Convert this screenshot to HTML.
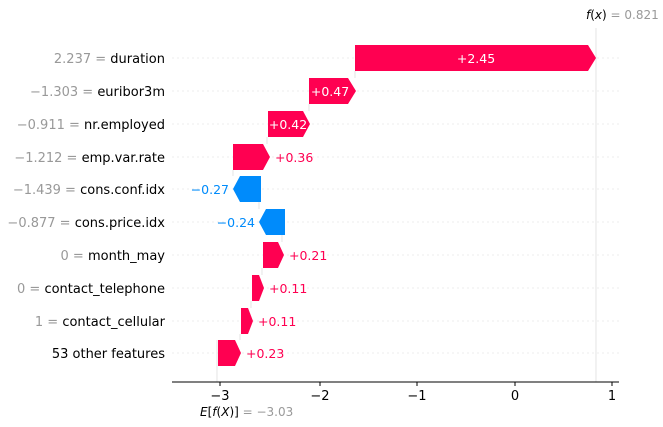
<!DOCTYPE html><html><head><style>body{margin:0;background:#fff}svg{display:block;font-family:"DejaVu Sans","Liberation Sans",sans-serif}</style></head><body>
<svg width="663" height="427" xmlns="http://www.w3.org/2000/svg">
<g stroke="#eee" stroke-dasharray="2,3" stroke-width="1">
<line x1="172" y1="58" x2="619" y2="58"/><line x1="172" y1="91" x2="619" y2="91"/><line x1="172" y1="124" x2="619" y2="124"/><line x1="172" y1="157" x2="619" y2="157"/><line x1="172" y1="189" x2="619" y2="189"/><line x1="172" y1="222" x2="619" y2="222"/><line x1="172" y1="255" x2="619" y2="255"/><line x1="172" y1="288" x2="619" y2="288"/><line x1="172" y1="321" x2="619" y2="321"/><line x1="172" y1="353" x2="619" y2="353"/>
</g>
<g stroke="#ddd" stroke-width="0.8">
<line x1="596" y1="28" x2="596" y2="382"/><line x1="217" y1="340" x2="217" y2="382"/>
<line x1="355" y1="71" x2="355" y2="78"/><line x1="309" y1="104" x2="309" y2="111"/><line x1="267" y1="137" x2="267" y2="144"/><line x1="233" y1="170" x2="233" y2="176"/><line x1="259" y1="202" x2="259" y2="209"/><line x1="282" y1="235" x2="282" y2="242"/><line x1="262" y1="268" x2="262" y2="275"/><line x1="251" y1="301" x2="251" y2="308"/><line x1="240" y1="334" x2="240" y2="340"/>
</g>
<g fill="#ff0051">
<polygon points="355,45 588,45 596,58 588,71 355,71"/>
<polygon points="309,78 348,78 356,91 348,104 309,104"/>
<polygon points="268,111 303,111 310,124 303,137 268,137"/>
<polygon points="233,144 263,144 270,157 263,170 233,170"/>
<polygon points="263,242 278,242 284,255 278,268 263,268"/>
<polygon points="252,275 259,275 264,288 259,301 252,301"/>
<polygon points="241,308 248,308 253,321 248,334 241,334"/>
<polygon points="218,340 235,340 241,353 235,366 218,366"/>
</g>
<g fill="#008bfb">
<polygon points="261,176 240,176 233,189 240,202 261,202"/>
<polygon points="285,209 266,209 259,222 266,235 285,235"/>
</g>
<g font-size="12.5" fill="#fff" text-anchor="middle">
<text x="476" y="63">+2.45</text><text x="330" y="96">+0.47</text><text x="288" y="129">+0.42</text>
</g>
<g font-size="12.5" fill="#ff0051">
<text x="275" y="162">+0.36</text><text x="289" y="260">+0.21</text><text x="269" y="293">+0.11</text><text x="258" y="326">+0.11</text><text x="246" y="358">+0.23</text>
</g>
<g font-size="12.5" fill="#008bfb" text-anchor="end">
<text x="229" y="194">−0.27</text><text x="255" y="227">−0.24</text>
</g>
<g font-size="13" text-anchor="end" fill="#000">
<text x="165" y="63"><tspan fill="#999">2.237 = </tspan>duration</text>
<text x="165" y="96"><tspan fill="#999">−1.303 = </tspan>euribor3m</text>
<text x="165" y="129"><tspan fill="#999">−0.911 = </tspan>nr.employed</text>
<text x="165" y="162"><tspan fill="#999">−1.212 = </tspan>emp.var.rate</text>
<text x="165" y="194"><tspan fill="#999">−1.439 = </tspan>cons.conf.idx</text>
<text x="165" y="227"><tspan fill="#999">−0.877 = </tspan>cons.price.idx</text>
<text x="165" y="260"><tspan fill="#999">0 = </tspan>month_may</text>
<text x="165" y="293"><tspan fill="#999">0 = </tspan>contact_telephone</text>
<text x="165" y="326"><tspan fill="#999">1 = </tspan>contact_cellular</text>
<text x="165" y="358">53 other features</text>
</g>
<line x1="172" y1="382" x2="619" y2="382" stroke="#000" stroke-width="1"/>
<g stroke="#000"><line x1="220" y1="382" x2="220" y2="386"/><line x1="320" y1="382" x2="320" y2="386"/><line x1="417" y1="382" x2="417" y2="386"/><line x1="515" y1="382" x2="515" y2="386"/><line x1="612" y1="382" x2="612" y2="386"/></g>
<g font-size="13" text-anchor="middle" fill="#000">
<text x="220" y="400">−3</text><text x="320" y="400">−2</text><text x="417" y="400">−1</text><text x="515" y="400">0</text><text x="612" y="400">1</text>
</g>
<text x="200" y="416" font-size="12"><tspan font-style="italic">E</tspan>[<tspan font-style="italic">f</tspan>(<tspan font-style="italic">X</tspan>)]<tspan fill="#999"> = −3.03</tspan></text>
<text x="586" y="19" font-size="12"><tspan font-style="italic">f</tspan>(<tspan font-style="italic">x</tspan>)<tspan fill="#999"> = 0.821</tspan></text>
</svg></body></html>
